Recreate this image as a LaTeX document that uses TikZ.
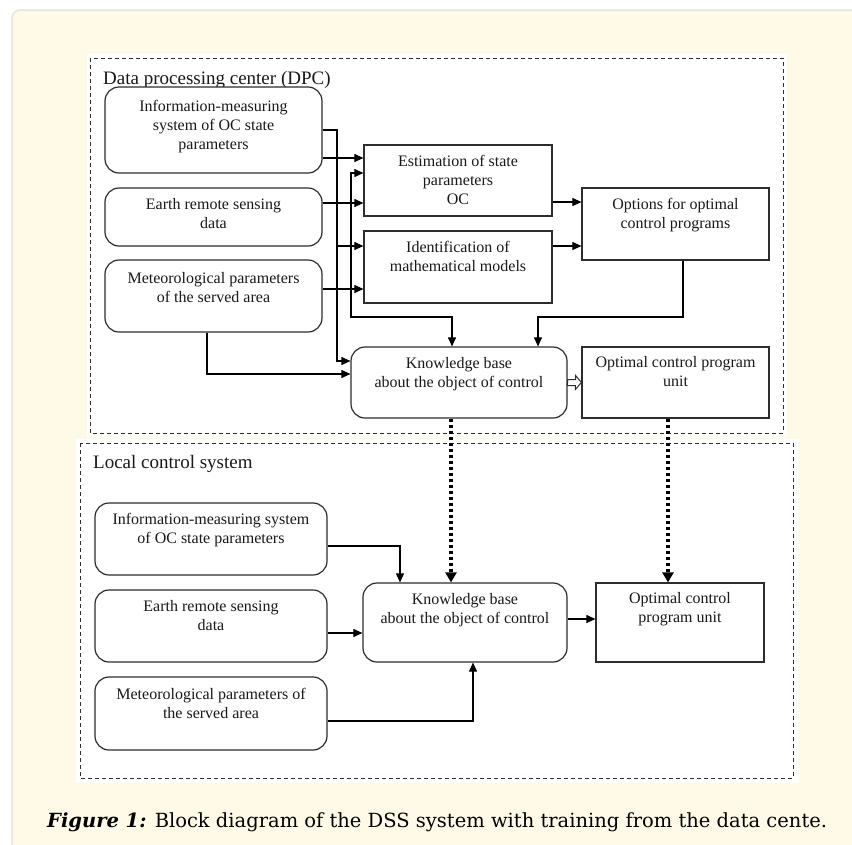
\documentclass[tikz,border=0pt]{standalone}
\usepackage{fontspec}
\setmainfont{Liberation Serif}
\newfontfamily\capfont{DejaVu Serif}
\usetikzlibrary{arrows.meta,calc}
\definecolor{paper}{RGB}{255,250,232}
\definecolor{rim}{RGB}{230,229,220}
\definecolor{ink}{RGB}{45,45,45}

\tikzset{
  box/.style={draw=ink, line width=1.2pt, fill=white, inner sep=0pt},
  rbox/.style={box, rounded corners=14pt},
  lbl/.style={anchor=north, align=center, inner sep=0pt, yshift=-11pt, text=black!90,
    font=\fontsize{16}{19}\selectfont},
  heading/.style={anchor=base west, inner sep=0pt, text=black!90, font=\fontsize{19}{22}\selectfont},
  conn/.style={line width=1.1pt, draw=black, -{Triangle[length=9pt,width=8pt]}},
  frame/.style={draw=ink, line width=1pt, dash pattern=on 4pt off 3pt},
  hint/.style={line width=3.5pt, dash pattern=on 3.5pt off 2.5pt, -{Triangle[length=10pt,width=11pt]}},
}

\begin{document}
\begin{tikzpicture}[x=1pt,y=-1pt]
		%%%%% PAGE %%%%%
		\useasboundingbox (0,0) rectangle (852,844);
		\fill[white] (0,0) rectangle (852,844);
		\draw[rim, line width=1.5pt, fill=paper, rounded corners=8pt] (12,10) rectangle (870,870);
		\fill[white] (87,54) rectangle (787,437);
		\fill[white] (76,439) rectangle (799,783);
		
		%%%%% DPC %%%%%
		\draw[frame] (90,58) rectangle (783,433);
		\node[heading] (dpc) at (103,84) {Data processing center (DPC)};
		
		\node[rbox, minimum width=217pt, minimum height=86pt,
		  label={[lbl, yshift=-3pt]north:{Information-measuring\\system of OC state\\parameters}}] (ims1) at (213.5,130) {};
		\node[rbox, minimum width=217pt, minimum height=58pt,
		  label={[lbl]north:{Earth remote sensing\\data}}] (ers1) at (213.5,217) {};
		\node[rbox, minimum width=217pt, minimum height=72pt,
		  label={[lbl, yshift=-2pt]north:{Meteorological parameters\\of the served area}}] (met1) at (213.5,296) {};
		
		\node[box, minimum width=188pt, minimum height=71pt,
		  label={[lbl]north:{Estimation of state\\parameters\\OC}}] (est) at (458,180.5) {};
		\node[box, minimum width=188pt, minimum height=72pt,
		  label={[lbl]north:{Identification of\\mathematical models}}] (ident) at (458,267) {};
		\node[box, minimum width=187pt, minimum height=72pt,
		  label={[lbl]north:{Options for optimal\\control programs}}] (opt) at (675.5,224) {};
		
		\node[rbox, minimum width=216pt, minimum height=71pt,
		  label={[lbl]north:{Knowledge base\\about the object of control}}] (kb1) at (459,382.5) {};
		\node[box, minimum width=187pt, minimum height=71pt,
		  label={[lbl, yshift=1pt]north:{Optimal control program\\unit}}] (ocpu1) at (675.5,382.5) {};
		
		\draw[conn] (ims1.east |- 0,158) -- (est.west |- 0,158);
		\draw[conn] (ims1.east) -- (337,130) |- (kb1.west |- 0,361);
		\draw[conn] (337,246) -- (ident.west |- 0,246);
		\draw[conn] (ers1.east |- 0,203) -- (est.west |- 0,203);
		\draw[conn] (met1.east |- 0,289) -- (ident.west |- 0,289);
		\draw[conn] (met1.south -| 207,0) |- (kb1.west |- 0,374);
		\draw[conn, {Triangle[length=9pt,width=8pt]}-{Triangle[length=9pt,width=8pt]}]
		  (est.west |- 0,173) -| (351,317) -| (kb1.north -| 452,0);
		\draw[conn] (est.east |- 0,202) -- (opt.west |- 0,202);
		\draw[conn] (ident.east |- 0,246) -- (opt.west |- 0,246);
		\draw[conn] (opt.south -| 683,0) |- (538,317) -- (kb1.north -| 538,0);
		
		% hollow arrow kb -> unit
		\draw[draw=ink, line width=1pt, fill=white] (kb1.east) ++(0,-3) -- ++(8,0) -- ++(0,-4) -- (ocpu1.west)
		  -- ++(-6,7) -- ++(0,-4) -- ++(-8,0) -- cycle;
		
		%%%%% LOCAL %%%%%
		\draw[frame] (80,443) rectangle (793,778);
		\node[heading] (lcs) at (93,468) {Local control system};
		
		\node[rbox, minimum width=232pt, minimum height=72pt,
		  label={[lbl]north:{Information-measuring system\\of OC state parameters}}] (ims2) at (211,539) {};
		\node[rbox, minimum width=232pt, minimum height=72pt,
		  label={[lbl]north:{Earth remote sensing\\data}}] (ers2) at (211,626) {};
		\node[rbox, minimum width=232pt, minimum height=73pt,
		  label={[lbl, yshift=-1pt]north:{Meteorological parameters of\\the served area}}] (met2) at (211,713.5) {};
		
		\node[rbox, minimum width=204pt, minimum height=79pt,
		  label={[lbl]north:{Knowledge base\\about the object of control}}] (kb2) at (465,622.5) {};
		\node[box, minimum width=168pt, minimum height=79pt,
		  label={[lbl, yshift=1pt]north:{Optimal control\\program unit}}] (ocpu2) at (680,622.5) {};
		
		\draw[conn] (ims2.east |- 0,546) -| (kb2.north -| 400,0);
		\draw[conn] (ers2.east |- 0,633) -- (kb2.west |- 0,633);
		\draw[conn] (met2.east |- 0,721) -| (kb2.south -| 473,0);
		\draw[conn] (kb2.east |- 0,619) -- (ocpu2.west |- 0,619);
		
		% training links from the data center
		\draw[hint] (kb1.south -| 451,0) -- (kb2.north -| 451,0);
		\draw[hint] (ocpu1.south -| 668,0) -- (ocpu2.north -| 668,0);
		
		%%%%% CAPTION %%%%%
		\node[anchor=base west, inner sep=0pt, font=\capfont\fontsize{19.5}{23}\selectfont] (cap) at (47,827)
		  {\textbf{\textit{Figure 1:}} Block diagram of the DSS system with training from the data cente.};
\end{tikzpicture}
\end{document}
